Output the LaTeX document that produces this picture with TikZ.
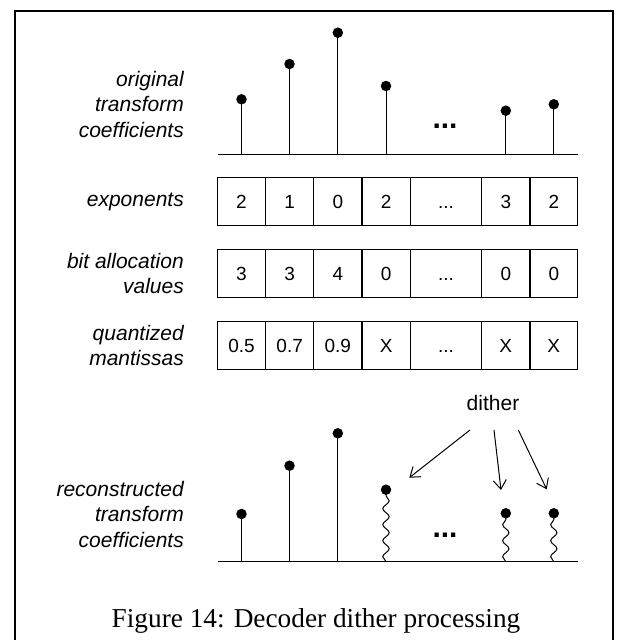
\documentclass[tikz,border=0pt]{standalone}
\usepackage{fontspec}
\setmainfont{Liberation Serif}
\newfontfamily\arialfont{Liberation Sans}
\usetikzlibrary{arrows.meta,decorations.pathmorphing}
\newcommand{\cellellipsis}{...}

\begin{document}
\begin{tikzpicture}[x=1pt,y=-1pt,
  frameline/.style={line width=2pt},
  axisline/.style={line width=1.4pt},
  stemline/.style={line width=1pt},
  wavystem/.style={line width=1pt,decorate,
    decoration={snake,segment length=16pt,amplitude=3.2pt}},
  coefdot/.style={circle,fill=black,inner sep=0pt,minimum size=10.5pt},
  cellbox/.style={draw,line width=1.2pt},
  celltext/.style={anchor=base,inner sep=0pt,font=\arialfont\fontsize{19}{22}\selectfont},
  rowlabel/.style={anchor=east,inner sep=0pt,align=right,
    font=\arialfont\itshape\fontsize{21}{25.5}\selectfont},
  bigdots/.style={inner sep=0pt,font=\arialfont\bfseries\fontsize{30}{30}\selectfont},
  ditherarrow/.style={line width=1pt,-{Straight Barb[length=9pt,width=13pt]}},
  caption/.style={anchor=base,inner sep=0pt,font=\fontsize{27.3}{30}\selectfont}]

\useasboundingbox (0,0) rectangle (621,640);

% outer frame (open at the bottom)
\draw[frameline] (15,660) -- (15,11) -- (613,11) -- (613,660);

% ---- original transform coefficients ----
\node[rowlabel] (lblorig) at (184,104) {original\\transform\\coefficients};
\coordinate (axA0) at (218,154.3);
\coordinate (axA1) at (578,154.3);
\draw[axisline] (axA0) -- (axA1);
\foreach \i/\x/\y in {1/241.5/99.3, 2/289.5/64, 3/337.8/32.7, 4/386/86,
                      6/505.8/110.7, 7/553.8/104.3} {
  \coordinate (oa\i) at (\x,154.3);
  \node[coefdot] (od\i) at (\x,\y) {};
  \draw[stemline] (oa\i) -- (od\i.center);
}
\node[bigdots] (odots) at (445,126) {...};

% ---- rows of boxes ----
\foreach \r/\yt/\yb/\lab in {1/177.7/225.7/{exponents},
                             2/249.3/297.3/{bit allocation\\values},
                             3/321.7/369.3/{quantized\\mantissas}} {
  \node[rowlabel] (lbl\r) at (184,{(\yt+\yb)/2}) {\lab};
  \foreach \c/\xl/\xr in {1/217.3/265.7, 2/265.7/313.7, 3/313.7/362,
                          4/362/410.3, 5/410.3/481.7, 6/481.7/530, 7/530/577.7} {
    \draw[cellbox] (\xl,\yt) rectangle (\xr,\yb);
  }
}
% cell contents
\foreach \c/\x in {1/241.5, 2/289.7, 3/337.8, 4/386.1, 5/446, 6/505.8, 7/553.8} {
  \coordinate (cx\c) at (\x,0);
}
\foreach \r/\yc/\vals in {1/201.7/{2,1,0,2,\cellellipsis,3,2},
                          2/273.3/{3,3,4,0,\cellellipsis,0,0},
                          3/345.5/{0.5,0.7,0.9,X,\cellellipsis,X,X}} {
  \foreach \v [count=\c] in \vals {
    \node[celltext] (t\r-\c) at ([yshift=-(\yc+6.8)*1pt]cx\c) {\v};
  }
}

% ---- reconstructed transform coefficients ----
\node[rowlabel] (lblrec) at (184,514) {reconstructed\\transform\\coefficients};
\coordinate (axB0) at (218,561.7);
\coordinate (axB1) at (578,561.7);
\draw[axisline] (axB0) -- (axB1);
\foreach \i/\x/\y in {1/241.5/514, 2/289.5/465.7, 3/337.8/433.3} {
  \coordinate (ra\i) at (\x,561.7);
  \node[coefdot] (rd\i) at (\x,\y) {};
  \draw[stemline] (ra\i) -- (rd\i.center);
}
\foreach \i/\x/\y in {4/386/489.7, 6/505.8/513.3, 7/553.8/513.3} {
  \coordinate (ra\i) at (\x,561.7);
  \node[coefdot] (rd\i) at (\x,\y) {};
  \draw[wavystem] (ra\i) -- (rd\i.center);
}
\node[bigdots] (rdots) at (445,535) {...};

% dither source and arrows
\node[inner sep=0pt,font=\arialfont\fontsize{21}{24}\selectfont] (dither) at (493,403) {dither};
\coordinate (ds1) at (470,430);
\coordinate (ds2) at (494,430);
\coordinate (ds3) at (518.3,430);
\coordinate (de1) at (409.3,477.7);
\coordinate (de2) at (501,490);
\coordinate (de3) at (546.7,489.3);
\draw[ditherarrow] (ds1) -- (de1);
\draw[ditherarrow] (ds2) -- (de2);
\draw[ditherarrow] (ds3) -- (de3);

% caption
\node[caption] (cap) at (316,627.3) {Figure 14: Decoder dither processing};
\end{tikzpicture}
\end{document}
